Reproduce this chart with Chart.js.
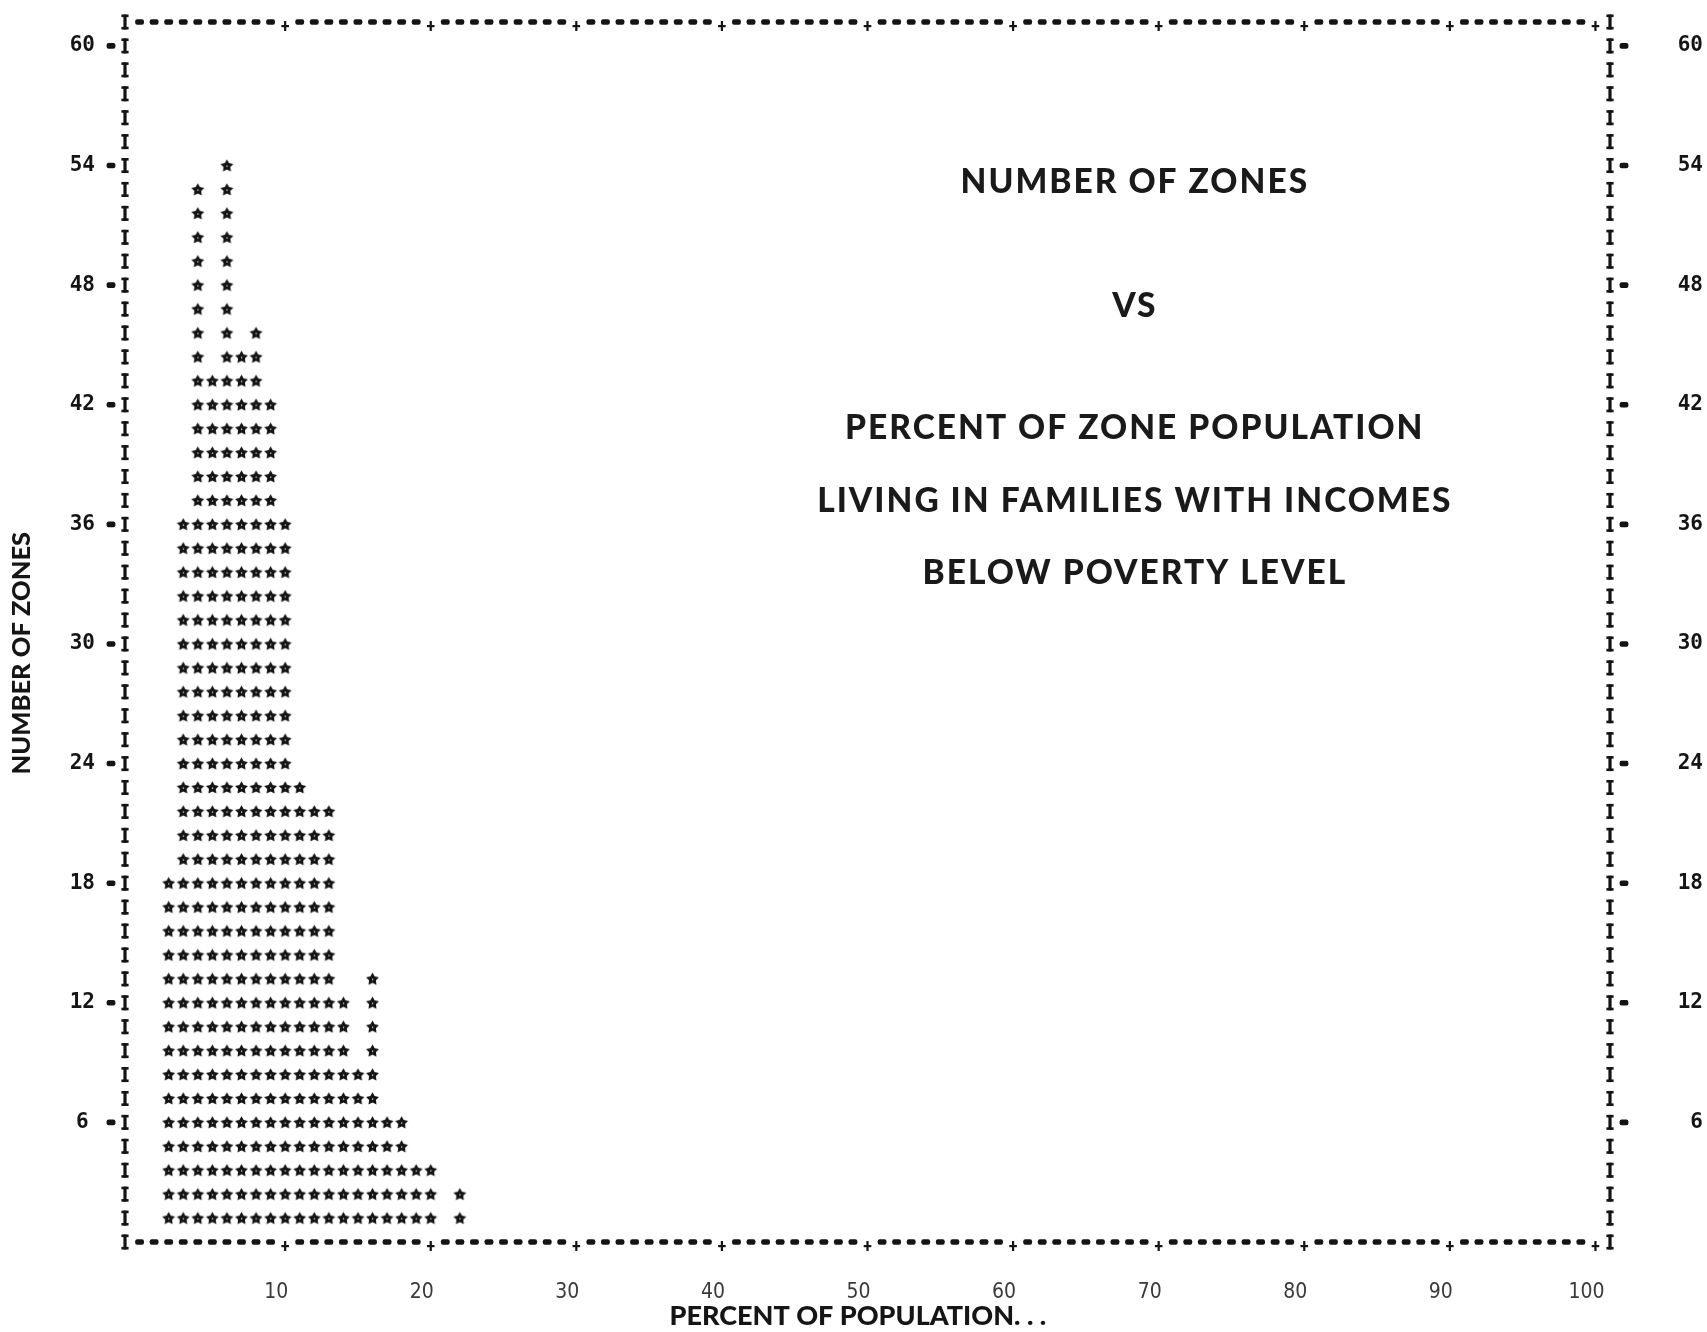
<!DOCTYPE html>
<html>
<head>
<meta charset="utf-8">
<script src="https://cdn.jsdelivr.net/npm/chart.js@4.4.1/dist/chart.umd.min.js"></script>
<style>
  html, body { margin: 0; padding: 0; background: #fff; }
  canvas { display: block; }
</style>
</head>
<body>
<canvas id="chart" width="1707" height="1332"></canvas>
<script>
// percent-of-population bins and the number of zones in each
var percentBins = [2, 3, 4, 5, 6, 7, 8, 9, 10, 11, 12, 13, 14, 15, 16, 17, 18, 19, 20, 21, 22];
var zoneCounts  = [18, 36, 53, 43, 54, 44, 46, 42, 36, 23, 22, 22, 12, 8, 13, 6, 6, 4, 4, 0, 2];

var yTickValues = [6, 12, 18, 24, 30, 36, 42, 48, 54, 60];
var xTickValues = [10, 20, 30, 40, 50, 60, 70, 80, 90, 100];

var titleLines = [
  'NUMBER OF ZONES',
  'VS',
  'PERCENT OF ZONE POPULATION',
  'LIVING IN FAMILIES WITH INCOMES',
  'BELOW POVERTY LEVEL'
];

var zonesPerLine = 1.2; // one printed line = 1.2 zones
var yMax = 61.2;        // top border is printed line 51

// stack of stars per column, one per printed line
var starPoints = [];
percentBins.forEach(function (bin, i) {
  var rows = Math.round(zoneCounts[i] / zonesPerLine);
  for (var k = 1; k <= rows; k++) {
    starPoints.push({ x: bin, y: k * zonesPerLine });
  }
});

function makeStar() {
  var c = document.createElement('canvas');
  c.width = 15; c.height = 15;
  var g = c.getContext('2d');
  g.fillStyle = '#141414';
  g.beginPath();
  for (var i = 0; i < 10; i++) {
    var r = i % 2 === 0 ? 6.8 : 3.6;
    var a = -Math.PI / 2 + i * Math.PI / 5;
    var px = 7.5 + r * Math.cos(a), py = 8 + r * Math.sin(a);
    if (i === 0) g.moveTo(px, py); else g.lineTo(px, py);
  }
  g.closePath();
  g.fill();
  g.fillStyle = '#fff';
  g.fillRect(7, 7.5, 1.2, 1.2);
  return c;
}

function drawI(ctx, x, y) {
  ctx.fillRect(x - 1.6, y - 7.5, 3.2, 15);
  ctx.fillRect(x - 3.6, y - 7.5, 7.2, 2.6);
  ctx.fillRect(x - 3.6, y + 4.9, 7.2, 2.6);
}

function drawDash(ctx, x, y) {
  ctx.beginPath();
  ctx.roundRect(x - 4.4, y - 2.8, 8.8, 5.6, 2);
  ctx.fill();
}

function drawPlus(ctx, x, y) {
  ctx.fillRect(x - 1.1, y - 1, 2.2, 10);
  ctx.fillRect(x - 3.8, y + 3, 7.6, 2.2);
}

// line-printer border: I's down the sides, dashes and + along top and bottom
var printerFrame = {
  id: 'printerFrame',
  afterDatasetsDraw: function (chart) {
    var ctx = chart.ctx;
    var xs = chart.scales.x, ys = chart.scales.y;
    var left = xs.getPixelForValue(xs.min), right = xs.getPixelForValue(xs.max);
    var top = ys.getPixelForValue(ys.max), bottom = ys.getPixelForValue(0);
    ctx.save();
    ctx.fillStyle = '#141414';
    var nLines = Math.round(ys.max / zonesPerLine);
    for (var k = 0; k <= nLines; k++) {
      var y = ys.getPixelForValue(k * zonesPerLine);
      drawI(ctx, left, y);
      drawI(ctx, right, y);
    }
    for (var v = 0; v <= 100; v++) {
      var x = xs.getPixelForValue(v);
      if (v > 0 && v % 10 === 0) {
        drawPlus(ctx, x, top);
        drawPlus(ctx, x, bottom);
      } else {
        drawDash(ctx, x, top);
        drawDash(ctx, x, bottom);
      }
    }
    yTickValues.forEach(function (t) {
      var y = ys.getPixelForValue(t);
      drawDash(ctx, left - 14, y);
      drawDash(ctx, right + 14, y);
    });
    ctx.restore();
  }
};

// the caption printed inside the plot
var plotCaption = {
  id: 'plotCaption',
  afterDraw: function (chart) {
    var ctx = chart.ctx, a = chart.chartArea;
    var rows = [0.131, 0.233, 0.333, 0.393, 0.452];
    ctx.save();
    ctx.fillStyle = '#1a1a1a';
    ctx.font = '900 33.5px Lato, "Open Sans", sans-serif';
    ctx.letterSpacing = '2px';
    ctx.textAlign = 'center';
    ctx.textBaseline = 'middle';
    titleLines.forEach(function (t, i) {
      ctx.fillText(t, a.left + a.width * 0.68, a.top + a.height * rows[i]);
    });
    ctx.restore();
  }
};

var numFont = { family: '"DejaVu Sans Mono", monospace', size: 21, weight: 'bold' };

var canvas = document.getElementById('chart');
new Chart(canvas, {
  type: 'scatter',
  data: {
    datasets: [{
      data: starPoints,
      pointStyle: makeStar(),
      pointRadius: 7,
      showLine: false
    }]
  },
  options: {
    responsive: false,
    animation: false,
    layout: { padding: { top: 22, right: 4, bottom: 0, left: 0 } },
    plugins: {
      legend: { display: false },
      tooltip: { enabled: false }
    },
    scales: {
      x: {
        type: 'linear',
        min: -1,
        max: 101,
        grid: { display: false, drawTicks: false },
        border: { display: false },
        afterBuildTicks: function (s) { s.ticks = xTickValues.map(function (v) { return { value: v }; }); },
        afterFit: function (s) { s.height = 90; },
        ticks: {
          padding: 38,
          labelOffset: -9,
          maxRotation: 0,
          autoSkip: false,
          color: '#3a3a3a',
          font: { family: '"Liberation Sans Narrow", "DejaVu Sans Condensed", sans-serif', size: 21 }
        },
        title: {
          display: true,
          // trailing spaces nudge the centred title a little left, as printed
          text: 'PERCENT OF POPULATION. . .   ',
          color: '#151515',
          font: { family: 'Lato, "Open Sans", sans-serif', size: 27, weight: '900' },
          padding: { top: 0, bottom: 0 }
        }
      },
      y: {
        position: 'left',
        min: 0,
        max: yMax,
        grid: { display: false, drawTicks: false },
        border: { display: false },
        afterBuildTicks: function (s) { s.ticks = yTickValues.map(function (v) { return { value: v }; }); },
        afterFit: function (s) { s.width = 125; s.paddingTop = 0; s.paddingBottom = 0; },
        ticks: {
          padding: 30,
          crossAlign: 'center',
          color: '#151515',
          font: numFont
        },
        title: {
          display: true,
          text: 'NUMBER OF ZONES       ',
          color: '#151515',
          font: { family: 'Lato, "Open Sans", sans-serif', size: 25.5, weight: '900' },
          padding: { top: 6, bottom: 0 }
        }
      },
      y2: {
        position: 'right',
        min: 0,
        max: yMax,
        grid: { display: false, drawTicks: false },
        border: { display: false },
        afterBuildTicks: function (s) { s.ticks = yTickValues.map(function (v) { return { value: v }; }); },
        afterFit: function (s) { s.width = 93; s.paddingTop = 0; s.paddingBottom = 0; },
        ticks: {
          padding: 0,
          crossAlign: 'far',
          color: '#151515',
          font: numFont
        }
      }
    }
  },
  plugins: [printerFrame, plotCaption]
});
</script>
</body>
</html>
